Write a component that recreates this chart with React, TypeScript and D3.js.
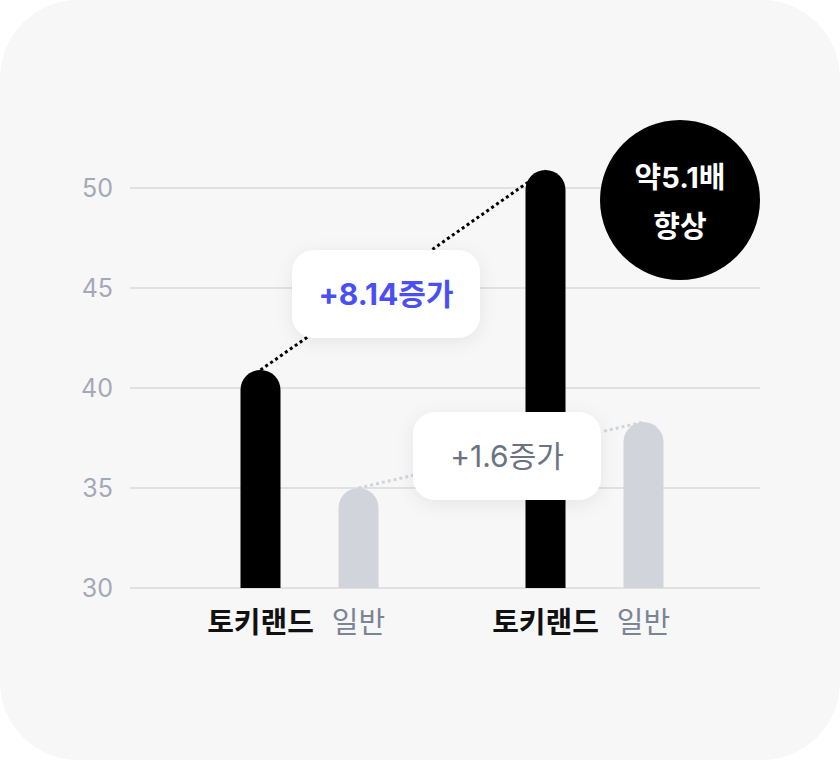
import React from "react";
import { scaleLinear, scaleBand, line } from "d3";

const groups = ["first", "second"];
const series = ["토키랜드", "일반"];
const tokilandValues = [40.9, 50.9];
const generalValues = [35.0, 38.3];
const yTicks = [30, 35, 40, 45, 50];
const diffLabels = ["+8.14증가", "+1.6증가"];
const badgeLines = ["약5.1배", "향상"];

const WIDTH = 840;
const HEIGHT = 760;
const FONT = "Inter, 'Noto Sans CJK KR', sans-serif";

export default function App() {
  const yScale = scaleLinear().domain([30, 50]).range([588, 188]);
  const groupScale = scaleBand<string>().domain(groups).range([167, 737]);
  const barW = 40;
  const offset = (s: string) => (s === series[0] ? -49 : 49);
  const cx = (g: string, s: string) =>
    groupScale(g)! + groupScale.bandwidth() / 2 + offset(s);

  const barPath = (x: number, v: number) => {
    const top = yScale(v);
    const base = yScale(30);
    const r = barW / 2;
    return `M${x - r},${base} V${top + r} A${r},${r} 0 0 1 ${x + r},${top + r} V${base} Z`;
  };

  const toki = groups.map((g, i) => ({ x: cx(g, series[0]), v: tokilandValues[i] }));
  const gen = groups.map((g, i) => ({ x: cx(g, series[1]), v: generalValues[i] }));
  const link = line<{ x: number; v: number }>()
    .x((d) => d.x)
    .y((d) => yScale(d.v));

  const boxes = [
    { cx: (toki[0].x + toki[1].x) / 2 - 17, cy: yScale(44.7), color: "#4a4ff5", weight: 700, text: diffLabels[0] },
    { cx: (gen[0].x + gen[1].x) / 2 + 6, cy: yScale(36.6), color: "#6b7280", weight: 400, text: diffLabels[1] },
  ];
  const boxW = 188;
  const boxH = 88;

  return (
    <svg
      width={WIDTH}
      height={HEIGHT}
      style={{ position: "absolute", left: 0, top: 0, background: "#fff" }}
      fontFamily={FONT}
    >
      <defs>
        <filter id="shadow" x="-30%" y="-40%" width="160%" height="180%">
          <feDropShadow dx="0" dy="4" stdDeviation="9" floodColor="#000" floodOpacity="0.07" />
        </filter>
      </defs>
      <rect x={0} y={0} width={WIDTH} height={HEIGHT} rx={78} fill="#f7f7f7" />

      {yTicks.map((t) => (
        <g key={t}>
          <line x1={130} x2={760} y1={yScale(t)} y2={yScale(t)} stroke="#dadada" strokeWidth={1.5} />
          <text x={113} y={yScale(t)} dy="0.36em" textAnchor="end" fontSize={25} fill="#a4a8b9">
            {t}
          </text>
        </g>
      ))}

      <path d={link(gen)!} fill="none" stroke="#d1d5db" strokeWidth={3} strokeDasharray="3 3" />
      <path d={link(toki)!} fill="none" stroke="#000" strokeWidth={3} strokeDasharray="3 3" />

      {gen.map((d, i) => (
        <path key={"g" + i} d={barPath(d.x, d.v)} fill="#d1d5db" />
      ))}
      {toki.map((d, i) => (
        <path key={"t" + i} d={barPath(d.x, d.v)} fill="#000" />
      ))}

      {boxes.map((b, i) => (
        <g key={i}>
          <rect
            x={b.cx - boxW / 2}
            y={b.cy - boxH / 2}
            width={boxW}
            height={boxH}
            rx={22}
            fill="#fff"
            filter="url(#shadow)"
          />
          <text x={b.cx} y={b.cy} dy="0.36em" textAnchor="middle" fontSize={30} fontWeight={b.weight} fill={b.color}>
            {b.text}
          </text>
        </g>
      ))}

      {groups.map((g) =>
        series.map((s, j) => (
          <text
            key={g + s}
            x={cx(g, s)}
            y={623}
            dy="0.36em"
            textAnchor="middle"
            fontSize={29}
            fontWeight={j === 0 ? 700 : 400}
            fill={j === 0 ? "#111" : "#7b8494"}
          >
            {s}
          </text>
        ))
      )}

      <g transform={`translate(680, ${yScale(49.4)})`}>
        <circle r={80} fill="#000" />
        {badgeLines.map((t, i) => (
          <text key={t} x={0} y={i === 0 ? -22 : 27} dy="0.36em" textAnchor="middle" fontSize={29} fontWeight={700} fill="#fff">
            {t}
          </text>
        ))}
      </g>
    </svg>
  );
}
